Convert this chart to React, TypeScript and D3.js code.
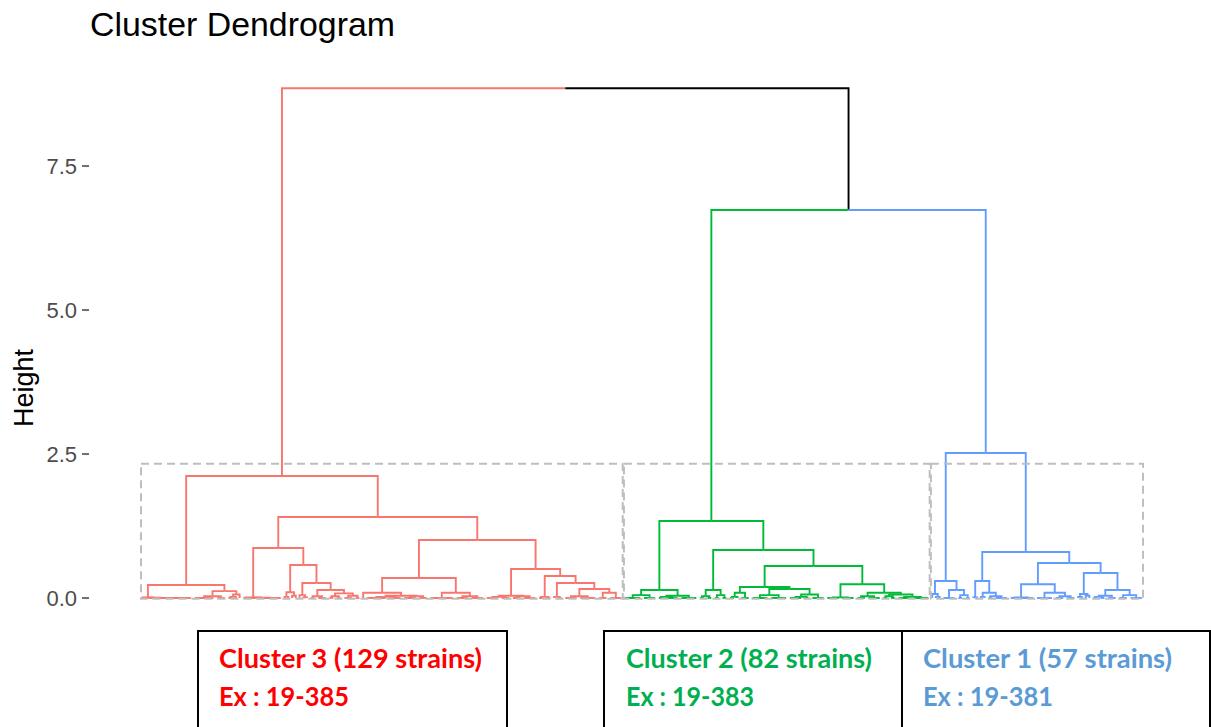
import React from 'react';
import * as d3 from 'd3';

// ---------- DATA ----------
// A subtree is either a number n (n strains joined at height 0) or [height, left, right].
type T = number | [number, T, T];

const chartTitle = 'Cluster Dendrogram';
const yAxisTitle = 'Height';
const yTicks = [0, 2.5, 5.0, 7.5];
const yTickLabels = ['0.0', '2.5', '5.0', '7.5'];

const rootHeight = 8.85;       // merge of cluster 3 with (cluster 2 + cluster 1)
const cluster21Height = 6.736; // merge of cluster 2 with cluster 1
const rectTopHeight = 2.33;
const rectBottomHeight = -0.015;

// Cluster 3 (red)
const c3A: T = [0.226,
  [0.008, 1, [0.005, 1, [0.003, 1, 11]]],
  [0.12, [0.03, 6, 3], [0.06, [0.02, 2, 1], 1]]];
const c3B1: T = [0.868,
  [0.01, 2, [0.005, 2, 7]],
  [0.573,
    [0.1, [0.02, 1, 1], [0.04, 1, 1]],
    [0.26,
      [0.05, 1, [0.01, 1, 1]],
      [0.139, [0.03, 2, 3], [0.08, [0.03, 2, 2], [0.04, 3, 2]]]]]];
const c3B2a: T = [0.347,
  [0.09, 1, [0.04, [0.02, 6, 4], [0.03, 4, 3]]],
  [0.09, 7, [0.03, 4, 4]]];
const c3B2b: T = [0.503,
  [0.04, [0.02, 4, 3], [0.03, 3, 4]],
  [0.382,
    [0.02, 2, 2],
    [0.26,
      [0.02, 1, 2],
      [0.156, [0.03, 4, 5], [0.09, 3, 4]]]]];
const cluster3Tree: T = [2.118, c3A, [1.406, c3B1, [1.007, c3B2a, c3B2b]]];

// Cluster 2 (green)
const c2L: T = [0.139, [0.05, 5, 4], [0.04, [0.02, 2, 4], 5]];
const c2RL: T = [0.14, [0.03, 2, 2], [0.05, 2, 2]];
const c2RRL: T = [0.19,
  [0.09, [0.02, 2, 1], 3],
  [0.156, [0.05, 5, 5], [0.06, [0.02, 4, 2], 4]]];
const c2RRR: T = [0.24,
  [0.01, 4, 4],
  [0.09, [0.03, 3, 4], [0.06, [0.03, 2, 2], [0.02, 4, 5]]]];
const cluster2Tree: T = [1.337, c2L, [0.833, c2RL, [0.556, c2RRL, c2RRR]]];

// Cluster 1 (blue)
const c1L: T = [0.295, [0.07, 1, [0.02, 1, 1]], [0.14, 4, [0.05, 2, 2]]];
const c1RL: T = [0.295, [0.01, 1, 1], [0.09, [0.02, 1, 1], [0.03, 2, 4]]];
const c1RRL: T = [0.24, [0.01, 3, 4], [0.09, 5, [0.03, 3, 3]]];
const c1RRR: T = [0.434,
  [0.07, [0.02, 1, 1], [0.04, 1, 1]],
  [0.139, [0.04, [0.02, 2, 2], 3], [0.05, 3, 4]]];
const cluster1Tree: T = [2.517, c1L, [0.799, c1RL, [0.608, c1RRL, c1RRR]]];

const clusterIds = [3, 2, 1];
const clusterExamples = ['19-385', '19-383', '19-381'];

// ---------- STYLE ----------
const branchColors = ['#F8766D', '#00BA38', '#619CFF'];
const labelColors = ['#FF0000', '#00B050', '#5B9BD5'];
const mixedColor = '#000000';

interface N { h: number; color: string; children?: N[] }

function build(t: T, color: string): N {
  if (typeof t === 'number') {
    if (t === 1) return { h: 0, color };
    return { h: 0, color, children: Array.from({ length: t }, () => ({ h: 0, color })) };
  }
  return { h: t[0], color, children: [build(t[1], color), build(t[2], color)] };
}

export default function App() {
  const W = 1211, H = 727;
  const font = '"Liberation Sans", Arial, sans-serif';

  const c3 = build(cluster3Tree, branchColors[0]);
  const c2 = build(cluster2Tree, branchColors[1]);
  const c1 = build(cluster1Tree, branchColors[2]);
  const rootData: N = {
    h: rootHeight, color: mixedColor,
    children: [c3, { h: cluster21Height, color: mixedColor, children: [c2, c1] }],
  };

  const root = d3.hierarchy<N>(rootData, d => d.children);
  const leaves = root.leaves();
  const pos = new Map<d3.HierarchyNode<N>, number>();
  leaves.forEach((l, i) => pos.set(l, i));
  root.eachAfter(n => {
    if (n.children) {
      const a = pos.get(n.children[0])!;
      const b = pos.get(n.children[n.children.length - 1])!;
      pos.set(n, (a + b) / 2);
    }
  });

  const xs = d3.scaleLinear().domain([0, leaves.length - 1]).range([142.3, 1141.8]);
  const ys = d3.scaleLinear().domain([0, 7.5]).range([598, 166]);

  const segs = root.descendants().filter(n => n.parent).map(n => {
    const p = n.parent!;
    const d = `M${xs(pos.get(p)!)},${ys(p.data.h)}H${xs(pos.get(n)!)}V${ys(n.data.h)}`;
    return { d, color: n.data.color };
  });

  const clusterNodes = [root.children![0], root.children![1].children![0], root.children![1].children![1]];
  const rects = clusterNodes.map(cn => {
    const lv = cn.leaves();
    const first = pos.get(lv[0])!;
    const last = pos.get(lv[lv.length - 1])!;
    return {
      x0: xs(first - 0.34), x1: xs(last + 0.33),
      y0: ys(rectTopHeight), y1: ys(rectBottomHeight),
      count: lv.length,
    };
  });

  const boxLeft = [198, 604, 902];
  const boxRight = [507, 902, 1210];
  const textLeft = [219, 626, 923];
  const line1W = [263, 246, 249];
  const line2W = [130, 128, 130];

  return (
    <svg width={W} height={H} style={{ position: 'absolute', left: 0, top: 0, background: '#fff' }}
      xmlns="http://www.w3.org/2000/svg">
      <rect x={0} y={0} width={W} height={H} fill="#fff" />
      <text x={90} y={36} fontFamily={font} fontSize={33.5} fill="#000" textLength={305} lengthAdjust="spacingAndGlyphs">{chartTitle}</text>

      {yTicks.map((t, i) => (
        <g key={t}>
          <line x1={82} x2={89} y1={ys(t)} y2={ys(t)} stroke="#333" strokeWidth={1.4} />
          <text x={77} y={ys(t) + 7.8} textAnchor="end" fontFamily={font} fontSize={22} fill="#4D4D4D">{yTickLabels[i]}</text>
        </g>
      ))}
      <text transform={`translate(33,388) rotate(-90)`} textAnchor="middle" fontFamily={font} fontSize={27} fill="#000">{yAxisTitle}</text>

      {segs.map((s, i) => (
        <path key={i} d={s.d} fill="none" stroke={s.color} strokeWidth={1.9} />
      ))}

      {rects.map((r, i) => (
        <rect key={i} x={r.x0} y={r.y0} width={r.x1 - r.x0} height={r.y1 - r.y0}
          fill="none" stroke="#BEBEBE" strokeWidth={2} strokeDasharray="8,5" />
      ))}

      {rects.map((r, i) => (
        <g key={'b' + i}>
          <rect x={boxLeft[i]} y={631} width={boxRight[i] - boxLeft[i]} height={120} fill="#fff" stroke="#000" strokeWidth={2} />
          <text x={textLeft[i]} y={668} fontFamily="Lato, 'Open Sans', sans-serif" fontWeight={700} fontSize={27}
            fill={labelColors[i]} textLength={line1W[i]} lengthAdjust="spacingAndGlyphs">
            {`Cluster ${clusterIds[i]} (${r.count} strains)`}
          </text>
          <text x={textLeft[i]} y={706} fontFamily="Lato, 'Open Sans', sans-serif" fontWeight={700} fontSize={27}
            fill={labelColors[i]} textLength={line2W[i]} lengthAdjust="spacingAndGlyphs">
            {`Ex : ${clusterExamples[i]}`}
          </text>
        </g>
      ))}
    </svg>
  );
}
